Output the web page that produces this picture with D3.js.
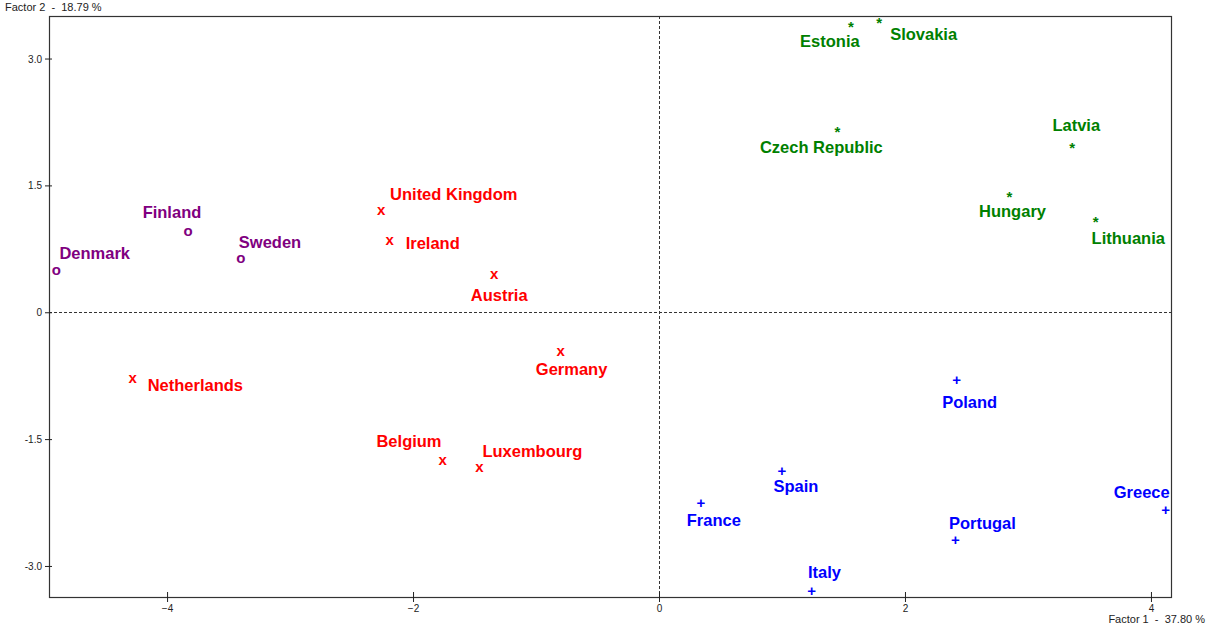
<!DOCTYPE html>
<html><head><meta charset="utf-8">
<script src="https://cdn.jsdelivr.net/npm/d3@7"></script>
<style>body{margin:0;background:#fff}svg{display:block}text{white-space:pre}</style>
</head><body>
<svg id="c" width="1207" height="626"></svg>
<script>
const countries = ["Denmark","Finland","Sweden","United Kingdom","Ireland","Austria","Germany","Netherlands","Belgium","Luxembourg","Estonia","Slovakia","Czech Republic","Latvia","Hungary","Lithuania","Poland","Spain","France","Portugal","Italy","Greece"];
const factor1 = [-4.90,-3.83,-3.40,-2.26,-2.19,-1.34,-0.80,-4.28,-1.76,-1.46,1.56,1.79,1.45,3.36,2.85,3.55,2.42,1.00,0.34,2.41,1.24,4.12];
const factor2 = [0.50,0.96,0.64,1.21,0.86,0.45,-0.46,-0.77,-1.75,-1.83,3.42,3.47,2.18,1.99,1.41,1.11,-0.80,-1.87,-2.25,-2.69,-3.29,-2.33];
const groups  = [0,0,0,1,1,1,1,1,1,1,2,2,2,2,2,2,3,3,3,3,3,3];
const groupMarkers = ["o","x","*","+"];
const groupColors = ["#800080","#ff0000","#008000","#0000ff"];
const xTicks = [-4,-2,0,2,4];
const yTicks = [-3,-1.5,0,1.5,3];
const yTickLabels = ["-3.0","-1.5","0","1.5","3.0"];
const xTitle = "Factor 1  -  37.80 %";
const yTitle = "Factor 2  -  18.79 %";
// label placement (layout only): [dx, dy, anchor]
const labelPlace = [[3,-17,"start"],[-16,-19,"middle"],[-2,-16,"start"],[9,-16,"start"],[16,4,"start"],[5,21,"middle"],[11,18,"middle"],[15,8,"start"],[-1,-19,"end"],[3,-16,"start"],[-21,18,"middle"],[11,15,"start"],[-16,19,"middle"],[4,-19,"middle"],[3,18,"middle"],[-4,20,"start"],[13,22,"middle"],[14,16,"middle"],[13,18,"middle"],[27,-17,"middle"],[13,-18,"middle"],[4,-17,"end"]];

const svg = d3.select("#c");
const L=49, R=1171, T=16, B=597;
const x = d3.scaleLinear().domain([-4.96,4.163]).range([L,R]);
const y = d3.scaleLinear().domain([-3.367,3.503]).range([B,T]);
const font = "Arial, 'Liberation Sans', sans-serif";

// zero lines
svg.append("line").attr("x1",x(0)+0.5).attr("x2",x(0)+0.5).attr("y1",T).attr("y2",B)
  .attr("stroke","#333").attr("stroke-dasharray","3,2").attr("stroke-width",1);
svg.append("line").attr("x1",L).attr("x2",R).attr("y1",Math.round(y(0))+0.5).attr("y2",Math.round(y(0))+0.5)
  .attr("stroke","#333").attr("stroke-dasharray","3,2").attr("stroke-width",1);

// frame
svg.append("rect").attr("x",L+0.5).attr("y",T+0.5).attr("width",R-L).attr("height",B-T)
  .attr("fill","none").attr("stroke","#333").attr("stroke-width",1.2);

// axes
const xAxis = d3.axisBottom(x).tickValues(xTicks).tickSize(0).tickFormat(d3.format("d"));
const gx = svg.append("g").attr("transform",`translate(0,${B})`).call(xAxis);
gx.select(".domain").remove();
gx.selectAll("text").attr("font-family",font).attr("font-size",10).attr("fill","#222").attr("dy","1.2em");
gx.selectAll(".tick").append("line").attr("y1",-5).attr("y2",5).attr("stroke","#222");

const yAxis = d3.axisLeft(y).tickValues(yTicks).tickSize(0).tickFormat((d,i)=>yTickLabels[i]);
const gy = svg.append("g").attr("transform",`translate(${L},0)`).call(yAxis);
gy.select(".domain").remove();
gy.selectAll("text").attr("font-family",font).attr("font-size",10).attr("fill","#222").attr("x",-7).attr("dy","0.35em");
gy.selectAll(".tick").append("line").attr("x1",-4).attr("x2",3).attr("stroke","#222");

// titles
svg.append("text").attr("x",5).attr("y",11).text(yTitle).attr("font-family",font).attr("font-size",11).attr("fill","#222");
svg.append("text").attr("x",1205).attr("y",623).attr("text-anchor","end").text(xTitle).attr("font-family",font).attr("font-size",11).attr("fill","#222");

// points
const data = countries.map((c,i)=>({name:c,f1:factor1[i],f2:factor2[i],g:groups[i],lp:labelPlace[i]}));
const pg = svg.append("g");
pg.selectAll("text.m").data(data).join("text").attr("class","m")
  .attr("x",d=>x(d.f1)).attr("y",d=>y(d.f2))
  .attr("text-anchor","middle")
  .attr("dy",d=>d.g===2?"0.6em":"0.35em")
  .attr("font-family",font).attr("font-weight","bold")
  .attr("font-size",15)
  .attr("fill",d=>groupColors[d.g])
  .text(d=>groupMarkers[d.g]);

pg.selectAll("text.l").data(data).join("text").attr("class","l")
  .attr("x",d=>x(d.f1)+d.lp[0]).attr("y",d=>y(d.f2)+d.lp[1])
  .attr("dy","0.35em").attr("text-anchor",d=>d.lp[2])
  .attr("font-family",font).attr("font-weight","bold").attr("font-size",16.5)
  .attr("fill",d=>groupColors[d.g])
  .text(d=>d.name);
</script>
</body></html>
